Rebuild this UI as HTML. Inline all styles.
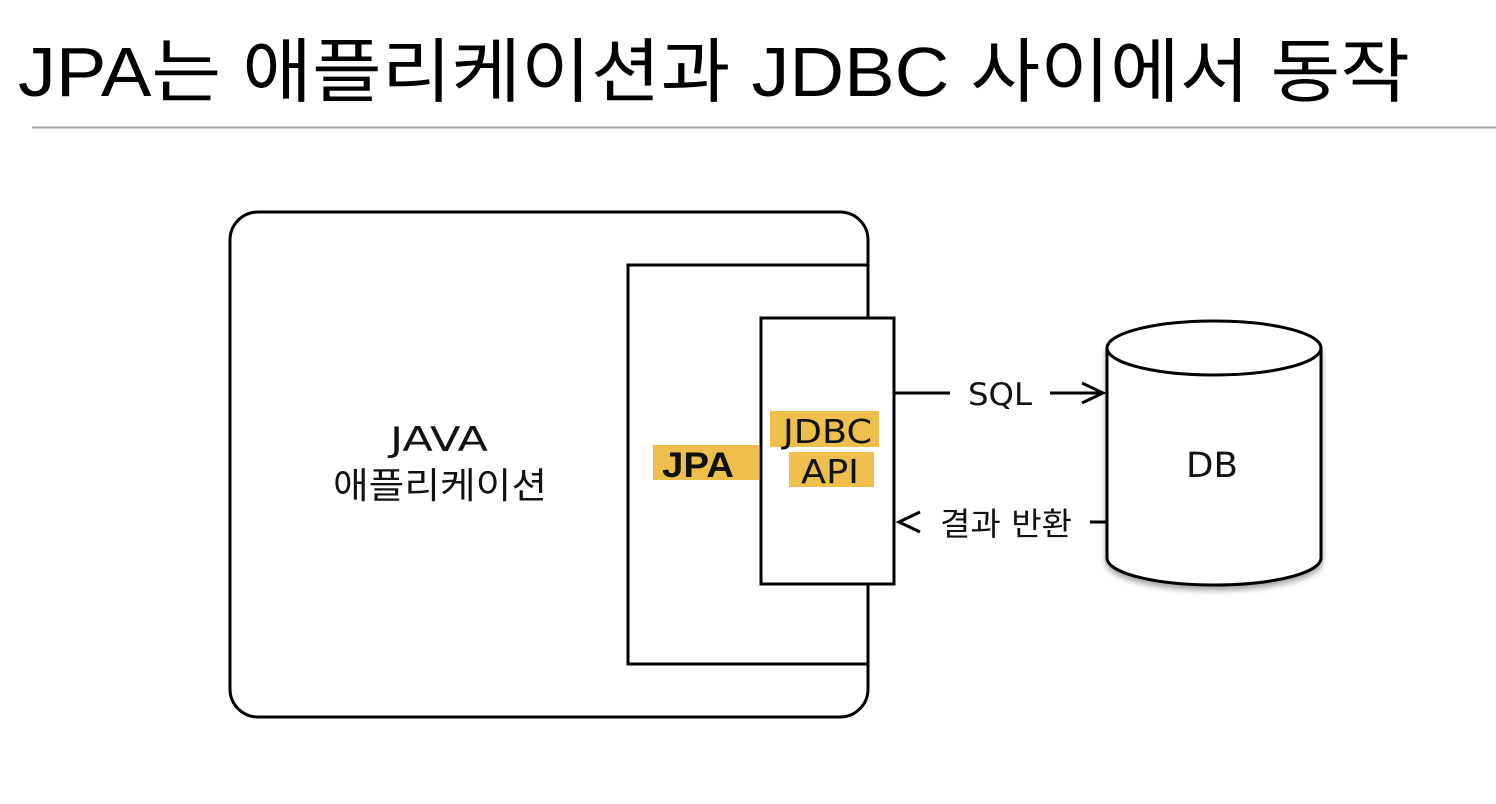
<!DOCTYPE html>
<html><head><meta charset="utf-8"><style>
html,body{margin:0;padding:0;background:#fff;}
svg{display:block;}
</style></head><body>
<svg width="1496" height="804" viewBox="0 0 1496 804" xmlns="http://www.w3.org/2000/svg">
<defs>
<filter id="sh" x="-20%" y="-20%" width="140%" height="140%"><feDropShadow dx="0" dy="4" stdDeviation="3" flood-color="#000" flood-opacity="0.35"/></filter>
</defs>
<text x="18" y="96" font-family="'Liberation Sans','Noto Sans CJK KR',sans-serif" font-size="70" textLength="1392" lengthAdjust="spacingAndGlyphs" fill="#000">JPA는 애플리케이션과 JDBC 사이에서 동작</text>
<line x1="32" y1="127.5" x2="1496" y2="127.5" stroke="#a0a0a0" stroke-width="2"/>
<g fill="none" stroke="#000" stroke-width="3">
<rect x="230" y="212" width="638" height="505" rx="28" fill="#fff"/>
<rect x="628" y="265" width="240" height="399" fill="#fff"/>
<rect x="761" y="318" width="133" height="266" fill="#fff"/>
<line x1="894" y1="393" x2="950" y2="393"/>
<line x1="1050" y1="393" x2="1102" y2="393"/>
<polyline points="1082,383 1103,393 1082,403"/>
<line x1="1090" y1="522" x2="1106" y2="522"/>
<polyline points="920,512 899,522 920,532"/>
</g>
<g stroke="#000" stroke-width="3">
<path d="M1107,348 L1107,558 A107,27 0 0 0 1321,558 L1321,348 Z" fill="#fff" filter="url(#sh)"/>
<ellipse cx="1214" cy="348" rx="107" ry="27" fill="#fff"/>
</g>
<rect x="653" y="445" width="106" height="35" fill="#efbf4d"/>
<rect x="770" y="411" width="109" height="36" fill="#efbf4d"/>
<rect x="789" y="452" width="85" height="35" fill="#efbf4d"/>
<g font-family="'DejaVu Sans','Noto Sans CJK KR',sans-serif" fill="#111" lengthAdjust="spacingAndGlyphs">
<text x="390" y="451" font-size="34" textLength="98" lengthAdjust="spacingAndGlyphs">JAVA</text>
<text x="333" y="498" font-size="36" textLength="214" lengthAdjust="spacingAndGlyphs">애플리케이션</text>
<text x="662" y="477" font-size="35" textLength="72" lengthAdjust="spacingAndGlyphs" font-family="'Liberation Sans',sans-serif" font-weight="bold">JPA</text>
<text x="783" y="443" font-size="33" textLength="89" lengthAdjust="spacingAndGlyphs">JDBC</text>
<text x="801" y="483" font-size="33" textLength="58" lengthAdjust="spacingAndGlyphs">API</text>
<text x="968" y="405" font-size="31" textLength="64" lengthAdjust="spacingAndGlyphs">SQL</text>
<text x="940" y="535" font-size="32" textLength="132" lengthAdjust="spacingAndGlyphs">결과 반환</text>
<text x="1186" y="477" font-size="35" textLength="52" lengthAdjust="spacingAndGlyphs">DB</text>
</g>
</svg>
</body></html>
